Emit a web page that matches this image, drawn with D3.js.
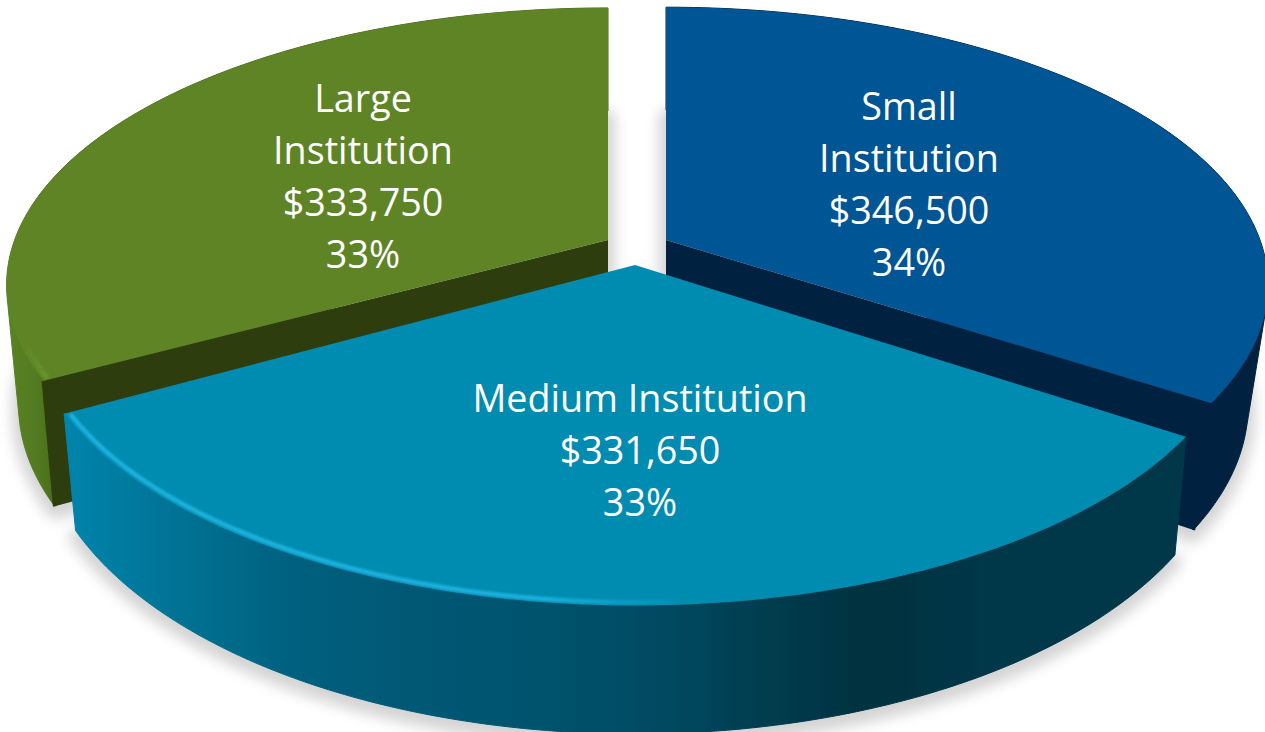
<!DOCTYPE html>
<html><head><meta charset="utf-8">
<script src="https://cdn.jsdelivr.net/npm/d3@7/dist/d3.min.js"></script>
<style>html,body{margin:0;padding:0;background:#fff;overflow:hidden}svg{display:block}text{font-family:"Open Sans",sans-serif;fill:#fff}</style>
</head><body><svg id="c" width="1265" height="732"></svg>
<script>
(function () {
const categories = ["Small Institution", "Medium Institution", "Large Institution"];
const values = [346500, 331650, 333750];
const nameLines = [["Small", "Institution"], ["Medium Institution"], ["Large", "Institution"]];

// layout and styling (not data)
const FONT = 37.7, LH = 52;
const RX = 600, RY = 285, PERSP = 0.163;
const geom = [
  {cx:666, cy:240, sx:.99, sy:.95, kx:.967, ky:1.06, dz:117, lx:909, ly:119.5, cut:"end"},
  {cx:635, cy:265, sx:1, sy:1, kx:.98, ky:1.06, dz:108, lx:640, ly:412, cut:null},
  {cx:608, cy:240, sx:.989, sy:.947, kx:.98, ky:1.06, dz:117, lx:363, ly:111.5, cut:"start"}
];
const tops = ["#005594", "#008cb1", "#5e8426"];
const cuts = ["#002240", "#00384a", "#2e3d10"];
const order = [2, 0, 1];

const svg = d3.select("#c");
const defs = svg.append("defs");
const blur = (id, s) => defs.append("filter").attr("id", id)
  .attr("x", "-20%").attr("y", "-20%").attr("width", "140%").attr("height", "140%")
  .append("feGaussianBlur").attr("stdDeviation", s);
blur("shadow", 7); blur("soft", 0.7); blur("rim", 1.2);

function grad(id, x1, x2, stops) {
  const g = defs.append("linearGradient").attr("id", id).attr("gradientUnits", "userSpaceOnUse")
    .attr("x1", x1).attr("x2", x2).attr("y1", 0).attr("y2", 0);
  stops.forEach(([o, c, a]) => g.append("stop").attr("offset", o).attr("stop-color", c).attr("stop-opacity", a === undefined ? 1 : a));
}
grad("wall0", 1000, 1265, [[0, "#002240"], [1, "#002240"]]);
grad("wall1", 65, 1180, [[0, "#0684ac"], [.12, "#006f90"], [.22, "#005e7c"], [.5, "#004e67"], [.72, "#00313f"], [.84, "#00384a"], [1, "#00384a"]]);
grad("wall2", 5, 60, [[0, "#5b8326"], [.6, "#527a20"], [1, "#466a1a"]]);
grad("rim1", 65, 690, [[0, "#1db0dc"], [.75, "#1db0dc"], [1, "#1db0dc", 0]]);
grad("rim2", 25, 50, [[0, "#669c2e", 0], [1, "#669c2e"]]);

const pie = d3.pie().sort(null).value(d => d);
const arcs = pie(values);
const total = d3.sum(values);
const usd = d3.format("$,");
const pct = d3.format(".0%");

function topPt(g, t, r = 1) {
  const X = r * Math.sin(t), Y = -r * Math.cos(t), w = 1 - PERSP * Y;
  return [g.cx + g.sx * RX * X / w, g.cy + g.sy * RY * Y / w];
}
function botPt(g, t, r = 1) {
  const [x, y] = topPt(g, t, r);
  return [g.cx + (x - g.cx) * g.kx, g.cy + g.dz + (y - g.cy) * g.ky];
}
const steps = (a, b) => d3.range(0, 121).map(i => a + (b - a) * i / 120);
const line = d3.line();

const shadowG = svg.append("g").attr("filter", "url(#shadow)").attr("opacity", .17)
  .attr("fill", "#000").attr("stroke", "#000").attr("stroke-width", 14).attr("stroke-linejoin", "round")
  .attr("transform", "translate(0,6)");
order.forEach(i => {
  const a = arcs[i], g = geom[i];
  shadowG.append("path").attr("d", line([...steps(a.startAngle, a.endAngle).map(t => botPt(g, t)), botPt(g, a.startAngle, 0)]) + "Z");
});

order.forEach(i => {
  const a = arcs[i], g = geom[i], ts = steps(a.startAngle, a.endAngle);
  const s = svg.append("g").attr("filter", "url(#soft)");
  // outer wall: the hull of the two rims, as a solid extrusion
  const hull = d3.polygonHull([...ts.map(t => topPt(g, t)), ...ts.map(t => botPt(g, t))]);
  s.append("path").attr("fill", `url(#wall${i})`).attr("stroke", `url(#wall${i})`).attr("stroke-width", 1)
    .attr("stroke-linejoin", "round")
    .attr("d", line(hull) + "Z");
  // cut face
  if (g.cut) {
    const e = g.cut === "end" ? a.endAngle : a.startAngle;
    s.append("path").attr("fill", cuts[i])
      .attr("d", line([topPt(g, e, 0), topPt(g, e, 1.003), botPt(g, e, 1.003), botPt(g, e, 0)]) + "Z");
  }
  // top surface
  s.append("path").attr("fill", tops[i]).attr("d", line([topPt(g, a.startAngle, 0), ...ts.map(t => topPt(g, t))]) + "Z");
  // rim highlight
  if (i === 1) {
    const rs = steps(a.endAngle - .005, Math.PI * 0.98);
    svg.append("path").attr("fill", "none").attr("stroke", "url(#rim1)").attr("stroke-width", 4.5)
      .attr("filter", "url(#rim)")
      .attr("d", line(rs.map(t => topPt(g, t, .992))));
  }
  if (i === 2) {
    const rs = steps(a.startAngle + .005, a.startAngle + .22);
    svg.append("path").attr("fill", "none").attr("stroke", "url(#rim2)").attr("stroke-width", 4.5)
      .attr("filter", "url(#rim)")
      .attr("d", line(rs.map(t => topPt(g, t, .992))));
  }
});

// labels
arcs.forEach((a, i) => {
  const g = geom[i];
  const lines = [...nameLines[i], usd(values[i]), pct(values[i] / total)];
  svg.append("text").attr("text-anchor", "middle").attr("font-size", FONT)
    .selectAll("tspan").data(lines).join("tspan")
    .attr("x", g.lx).attr("y", (d, k) => g.ly + k * LH).text(d => d);
});
})();
</script></body></html>
